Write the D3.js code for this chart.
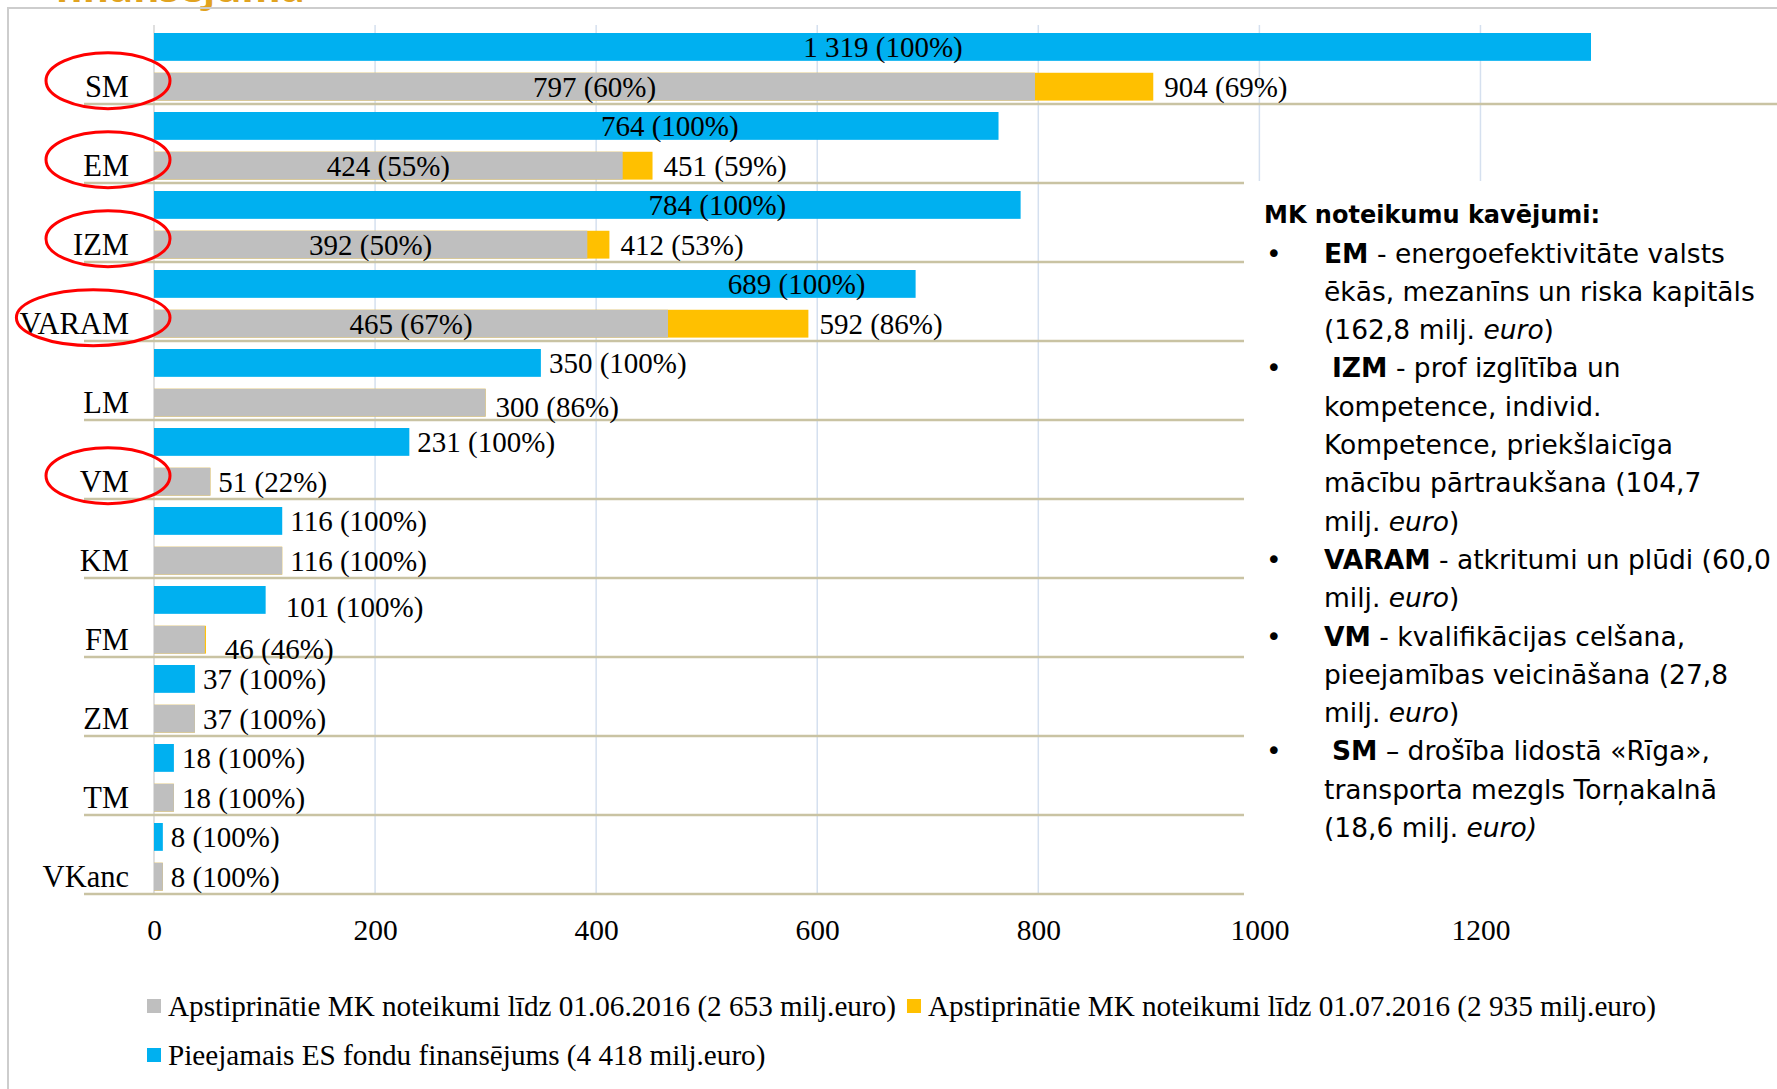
<!DOCTYPE html>
<html>
<head>
<meta charset="utf-8">
<script src="https://cdn.jsdelivr.net/npm/d3@7"></script>
<style>
  body { margin: 0; background: #fff; }
  svg { display: block; }
  text { font-family: "Liberation Serif", "Times New Roman", serif; }
  text.note { font-family: "DejaVu Sans", Verdana, sans-serif; }
</style>
</head>
<body>
<div id="chart"></div>
<script>
// Data (milj. euro)
var categories = ["SM", "EM", "IZM", "VARAM", "LM", "VM", "KM", "FM", "ZM", "TM", "VKanc"];
var available = [1319, 764, 784, 689, 350, 231, 116, 101, 37, 18, 8];
var availablePct = [100, 100, 100, 100, 100, 100, 100, 100, 100, 100, 100];
var approvedJune = [797, 424, 392, 465, 300, 51, 116, 46, 37, 18, 8];
var approvedJunePct = [60, 55, 50, 67, 86, 22, 100, 46, 100, 100, 100];
var approvedJuly = [904, 451, 412, 592, 300, 51, 116, 47, 37, 18, 8];
var approvedJulyPct = [69, 59, 53, 86, null, null, null, null, null, null, null];
var xTicks = [0, 200, 400, 600, 800, 1000, 1200];
var circled = ["SM", "EM", "IZM", "VARAM", "VM"];

var seriesNames = [
    "Apstiprinātie MK noteikumi līdz 01.06.2016 (2 653 milj.euro)",
    "Apstiprinātie MK noteikumi līdz 01.07.2016 (2 935 milj.euro)",
    "Pieejamais ES fondu finansējums (4 418 milj.euro)"
];

// Notes box on the right
var notes = [
    { bullet: false, parts: [["MK noteikumu kavējumi:", "b"]] },
    { bullet: true, parts: [["EM", "b"], [" - energoefektivitāte valsts", ""]] },
    { bullet: false, parts: [["ēkās, mezanīns un riska kapitāls", ""]] },
    { bullet: false, parts: [["(162,8 milj. ", ""], ["euro", "i"], [")", ""]] },
    { bullet: true, indent: 8, parts: [["IZM", "b"], [" - prof izglītība un", ""]] },
    { bullet: false, parts: [["kompetence, individ.", ""]] },
    { bullet: false, parts: [["Kompetence, priekšlaicīga", ""]] },
    { bullet: false, parts: [["mācību pārtraukšana (104,7", ""]] },
    { bullet: false, parts: [["milj. ", ""], ["euro", "i"], [")", ""]] },
    { bullet: true, parts: [["VARAM", "b"], [" - atkritumi un plūdi (60,0", ""]] },
    { bullet: false, parts: [["milj. ", ""], ["euro", "i"], [")", ""]] },
    { bullet: true, parts: [["VM", "b"], [" - kvalifikācijas celšana,", ""]] },
    { bullet: false, parts: [["pieejamības veicināšana (27,8", ""]] },
    { bullet: false, parts: [["milj. ", ""], ["euro", "i"], [")", ""]] },
    { bullet: true, indent: 8, parts: [["SM", "b"], [" – drošība lidostā «Rīga»,", ""]] },
    { bullet: false, parts: [["transporta mezgls Torņakalnā", ""]] },
    { bullet: false, parts: [["(18,6 milj. ", ""], ["euro)", "i"]] }
];

var W = 1777, H = 1089;
var colBlue = "#00B0F0", colGrey = "#BFBFBF", colYellow = "#FFC000";

var lv = d3.formatLocale({ decimal: ",", thousands: " ", grouping: [3], currency: ["", ""] });
var fmt = lv.format(",");

var svg = d3.select("#chart").append("svg")
    .attr("width", W)
    .attr("height", H);

// slide title, cut off at the top edge
svg.append("text")
    .attr("x", 55).attr("y", 2)
    .style("font-family", "'Open Sans', sans-serif")
    .style("font-weight", "bold")
    .style("font-size", "40px")
    .attr("fill", "#E1A31F")
    .text("finansējuma");

// frame
svg.append("path")
    .attr("d", "M8," + H + "V8H" + W)
    .attr("fill", "none")
    .attr("stroke", "#CDCDCD")
    .attr("stroke-width", 2);

// scales
var x = d3.scaleLinear().domain([0, 1300]).range([154, 1591]).clamp(true);
var y = d3.scaleBand().domain(categories).range([25, 894]);
var ys = d3.scaleBand().domain(["avail", "approved"]).range([8, 75.6]).paddingInner(0.3);

// vertical gridlines
svg.append("g").selectAll("line")
    .data(xTicks)
    .join("line")
    .attr("x1", function (d) { return x(d); })
    .attr("x2", function (d) { return x(d); })
    .attr("y1", 25).attr("y2", 894)
    .attr("stroke", function (d) { return d === 0 ? "#D4D4D4" : "#D5E0EF"; })
    .attr("stroke-width", 1.5);

// category separators
svg.append("g").selectAll("line")
    .data(categories)
    .join("line")
    .attr("x1", 84).attr("x2", W)
    .attr("y1", function (d) { return y(d) + y.step(); })
    .attr("y2", function (d) { return y(d) + y.step(); })
    .attr("stroke", "#C9C3A3")
    .attr("stroke-width", 2.5);

var rows = categories.map(function (c, i) {
    return { cat: c, avail: available[i], availPct: availablePct[i],
             june: approvedJune[i], junePct: approvedJunePct[i],
             july: approvedJuly[i], julyPct: approvedJulyPct[i] };
});

var bars = svg.append("g");
// available
bars.selectAll(".blue").data(rows).join("rect")
    .attr("x", x(0))
    .attr("y", function (d) { return y(d.cat) + ys("avail"); })
    .attr("width", function (d) { return x(d.avail) - x(0); })
    .attr("height", ys.bandwidth())
    .attr("fill", colBlue);
// approved till 01.07 (behind the June bar)
bars.selectAll(".yellow").data(rows).join("rect")
    .attr("x", x(0))
    .attr("y", function (d) { return y(d.cat) + ys("approved"); })
    .attr("width", function (d) { return x(d.july) - x(0); })
    .attr("height", ys.bandwidth())
    .attr("fill", colYellow);
// approved till 01.06
bars.selectAll(".grey").data(rows).join("rect")
    .attr("x", x(0))
    .attr("y", function (d) { return y(d.cat) + ys("approved"); })
    .attr("width", function (d) { return x(d.june) - x(0); })
    .attr("height", ys.bandwidth())
    .attr("fill", colGrey);

// label placement (hand placed in the original slide)
var blueCenterAt = { SM: 659.5, EM: 466.6, IZM: 509.7, VARAM: 581.4 };
var nudge = { FM: { blue: [12, 7], grey: [12, 9] }, LM: { blue: [0, 0], grey: [2, 4] } };

var labels = svg.append("g").style("font-size", "29px").attr("fill", "#000");
rows.forEach(function (d) {
    var n = nudge[d.cat] || { blue: [0, 0], grey: [0, 0] };
    var yb = y(d.cat) + ys("avail") + ys.bandwidth() / 2;
    var yg = y(d.cat) + ys("approved") + ys.bandwidth() / 2;
    var t = labels.append("text").attr("dy", "0.34em")
        .text(fmt(d.avail) + " (" + d.availPct + "%)");
    if (blueCenterAt[d.cat] !== undefined) {
        t.attr("x", x(blueCenterAt[d.cat])).attr("y", yb).attr("text-anchor", "middle");
    } else {
        t.attr("x", x(d.avail) + 8 + n.blue[0]).attr("y", yb + n.blue[1]);
    }
    var g = labels.append("text").attr("dy", "0.34em")
        .text(fmt(d.june) + " (" + d.junePct + "%)");
    if (d.julyPct !== null) {
        g.attr("x", (x(0) + x(d.june)) / 2).attr("y", yg).attr("text-anchor", "middle");
        labels.append("text").attr("dy", "0.34em")
            .attr("x", x(d.july) + 11).attr("y", yg)
            .text(fmt(d.july) + " (" + d.julyPct + "%)");
    } else {
        g.attr("x", x(d.june) + 8 + n.grey[0]).attr("y", yg + n.grey[1]);
    }
});

// category labels + red ellipses
var catG = svg.append("g");
rows.forEach(function (d) {
    var yc = y(d.cat) + ys("approved") + ys.bandwidth() / 2;
    var lab = catG.append("text")
        .attr("x", 129).attr("y", yc).attr("dy", "0.34em")
        .attr("text-anchor", "end")
        .style("font-size", "30.5px")
        .text(d.cat);
    if (circled.indexOf(d.cat) >= 0) {
        var w = lab.node().getComputedTextLength();
        var rx = Math.max(62, w / 2 + 22);
        catG.append("ellipse")
            .attr("cx", 170 - rx).attr("cy", yc - 6)
            .attr("rx", rx).attr("ry", 28)
            .attr("fill", "none")
            .attr("stroke", "#FF0000")
            .attr("stroke-width", 3);
    }
});

// x axis tick labels
var axis = svg.append("g")
    .attr("transform", "translate(0,919)")
    .call(d3.axisBottom(x).tickValues(xTicks).tickSize(0).tickPadding(0).tickFormat(d3.format("d")));
axis.select(".domain").remove();
axis.selectAll("text")
    .style("font-family", "'Liberation Serif', serif")
    .style("font-size", "29.5px")
    .attr("fill", "#000");

// notes box
svg.append("rect")
    .attr("x", 1244).attr("y", 181)
    .attr("width", W - 1244).attr("height", 720)
    .attr("fill", "#fff");

var notesG = svg.append("g")
    .attr("fill", "#000");
notes.forEach(function (line, i) {
    var yy = 215 + i * 38.3;
    if (line.bullet) {
        notesG.append("text").attr("class", "note")
            .style("font-size", "26.5px")
            .attr("x", 1266).attr("y", yy).attr("dy", "0.35em").text("•");
    }
    var tx = notesG.append("text").attr("class", "note")
        .style("font-size", i === 0 ? "24px" : "26.5px")
        .attr("x", (i === 0 ? 1264 : 1324) + (line.indent || 0))
        .attr("y", yy).attr("dy", "0.35em")
        .style("white-space", "pre");
    line.parts.forEach(function (p) {
        tx.append("tspan")
            .style("font-weight", p[1] === "b" ? "bold" : "normal")
            .style("font-style", p[1] === "i" ? "italic" : "normal")
            .text(p[0]);
    });
});

// legend
var legendColors = [colGrey, colYellow, colBlue];
var legend = svg.append("g").style("font-size", "29.2px");
var lx = 147;
[[0, 1006], [1, 1006], [2, 1055]].forEach(function (item, k) {
    if (k === 2) lx = 147;
    legend.append("rect")
        .attr("x", lx).attr("y", item[1] - 7)
        .attr("width", 14).attr("height", 14)
        .attr("fill", legendColors[item[0]]);
    var t = legend.append("text")
        .attr("x", lx + 21).attr("y", item[1]).attr("dy", "0.34em")
        .text(seriesNames[item[0]]);
    lx = lx + 21 + t.node().getComputedTextLength() + 11;
});
</script>
</body>
</html>
